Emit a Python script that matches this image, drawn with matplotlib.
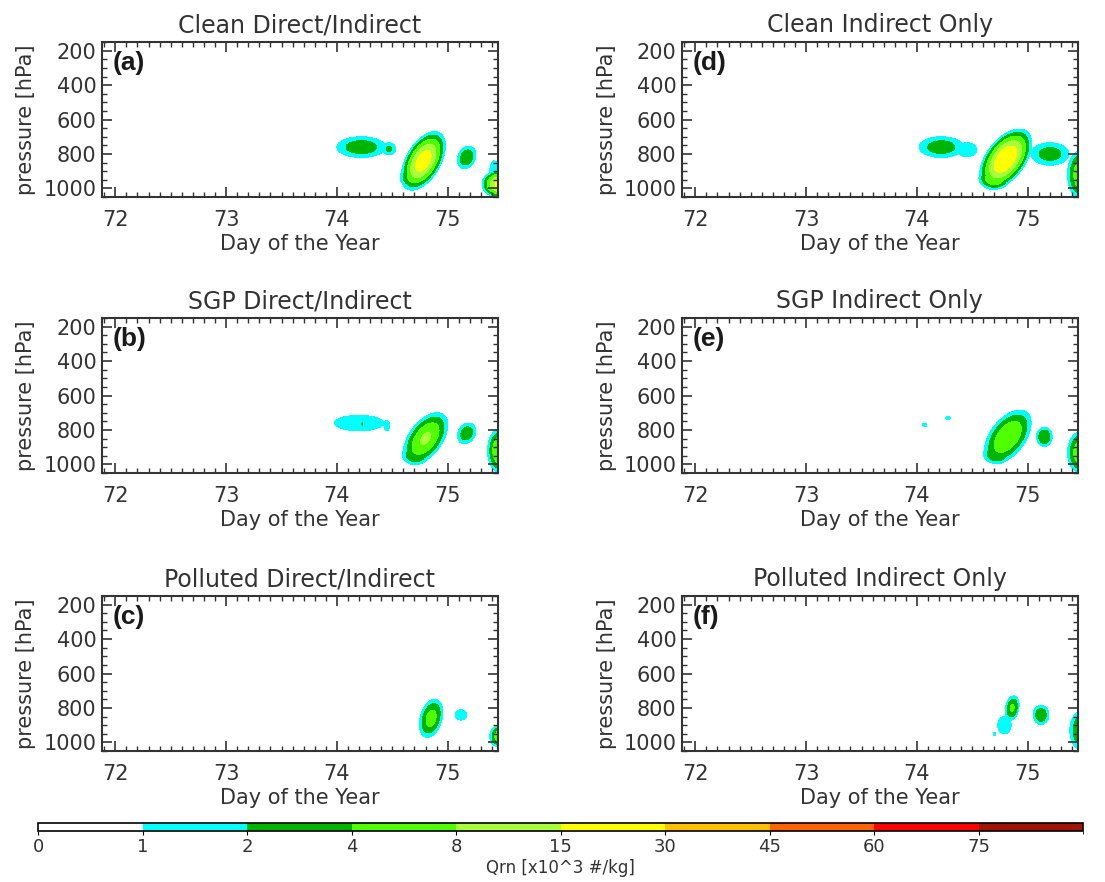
######################################################
# rain number concentration (Qrn) time-pressure sections
# clean / SGP / polluted aerosol runs
######################################################

import numpy as np
import matplotlib.pyplot as plt
import matplotlib as mpl
from matplotlib.colors import ListedColormap, BoundaryNorm
from matplotlib.ticker import MultipleLocator

# contour levels and colours [x10^3 #/kg]
levels = [0, 1, 2, 4, 8, 15, 30, 45, 60, 75, 90]
level_colors = ['#ffffff', '#00ffff', '#00b400', '#50ff00', '#a8ff3c',
                '#ffff00', '#ffc000', '#ff6400', '#ff0000', '#a01400']
tick_labels = ['0', '1', '2', '4', '8', '15', '30', '45', '60', '75']

titles = ['Clean Direct/Indirect', 'SGP Direct/Indirect', 'Polluted Direct/Indirect',
          'Clean Indirect Only', 'SGP Indirect Only', 'Polluted Indirect Only']
letters = ['(a)', '(b)', '(c)', '(d)', '(e)', '(f)']

# rain cells: day, pressure, half-width [day], half-width [hPa], peak Qrn, tilt [day/100 hPa]
cells_a = [(74.22, 760, 0.22, 60, 3.1, 0.0),
           (74.47, 770, 0.06, 35, 2.3, 0.0),
           (74.78, 840, 0.17, 170, 22.0, -0.06),
           (74.70, 935, 0.13, 65, 6.0, 0.0),
           (75.17, 820, 0.08, 65, 3.5, -0.03),
           (75.48, 975, 0.17, 80, 20.0, 0.0),
           (75.42, 900, 0.04, 60, 1.5, 0.0)]
cells_b = [(74.20, 760, 0.22, 45, 1.8, 0.0),
           (74.23, 765, 0.012, 18, 2.3, 0.0),
           (74.45, 775, 0.025, 30, 1.5, 0.0),
           (74.80, 850, 0.17, 150, 9.0, -0.07),
           (74.71, 945, 0.12, 55, 4.0, 0.0),
           (75.17, 820, 0.08, 60, 3.2, -0.03),
           (75.48, 920, 0.12, 130, 9.0, 0.0)]
cells_c = [(74.85, 860, 0.10, 110, 5.5, -0.03),
           (75.12, 840, 0.05, 30, 1.5, 0.0),
           (75.48, 965, 0.10, 65, 7.0, 0.0)]
cells_d = [(74.22, 760, 0.20, 60, 3.0, 0.0),
           (74.45, 775, 0.09, 40, 1.6, 0.0),
           (74.80, 830, 0.20, 175, 28.0, -0.07),
           (74.70, 940, 0.14, 65, 8.0, 0.0),
           (75.20, 800, 0.17, 65, 2.8, 0.0),
           (75.48, 920, 0.12, 140, 7.0, 0.0)]
cells_e = [(74.07, 770, 0.02, 10, 1.2, 0.0),
           (74.28, 730, 0.02, 10, 1.2, 0.0),
           (74.82, 840, 0.18, 155, 8.0, -0.07),
           (74.72, 940, 0.12, 55, 4.0, 0.0),
           (75.15, 840, 0.07, 55, 4.0, 0.0),
           (75.48, 930, 0.12, 120, 7.0, 0.0)]
cells_f = [(74.86, 800, 0.06, 70, 4.5, -0.02),
           (74.79, 900, 0.06, 50, 1.8, 0.0),
           (74.70, 950, 0.012, 10, 1.3, 0.0),
           (75.12, 840, 0.07, 55, 3.5, 0.0),
           (75.48, 930, 0.10, 110, 4.0, 0.0)]
all_cells = [cells_a, cells_b, cells_c, cells_d, cells_e, cells_f]

day = np.linspace(71.88, 75.45, 800)
pres = np.linspace(150, 1050, 400)
DAY, P = np.meshgrid(day, pres)


def rain_field(cells):
    z = np.zeros_like(DAY)
    for d0, p0, wd, wp, peak, tilt in cells:
        xc = d0 + tilt * (P - p0) / 100.0
        r2 = ((DAY - xc) / wd) ** 2 + ((P - p0) / wp) ** 2
        z = np.maximum(z, peak ** (1 - r2))
    return z


plt.rcParams['font.family'] = 'DejaVu Sans'
text_col = '#333333'

fig = plt.figure(figsize=(11.05, 8.82), dpi=100)

col_left = [0.0923, 0.6172]
row_bottom = [0.7766, 0.4637, 0.1485]
width, height = 0.358, 0.1757

for i in range(6):
    col, row = i // 3, i % 3
    ax = fig.add_axes([col_left[col], row_bottom[row], width, height])
    z = rain_field(all_cells[i])
    ax.contourf(day, pres, z, levels=levels[1:], colors=level_colors[1:], extend='max')
    ax.set_xlim(71.88, 75.45)
    ax.set_ylim(1050, 150)
    ax.set_xticks([72, 73, 74, 75])
    ax.set_yticks([200, 400, 600, 800, 1000])
    ax.xaxis.set_minor_locator(MultipleLocator(0.1))
    ax.yaxis.set_minor_locator(MultipleLocator(50))
    ax.tick_params(which='both', direction='in', top=True, right=True,
                   color='#333333', labelcolor=text_col, labelsize=15)
    ax.tick_params(which='major', length=7, width=1.2)
    ax.tick_params(which='minor', length=3.5, width=1)
    ax.tick_params(axis='x', pad=9)
    ax.tick_params(axis='y', pad=4)
    for s in ax.spines.values():
        s.set_linewidth(1.5)
        s.set_color('#333333')
    ax.set_title(titles[i], fontsize=17, color=text_col, pad=7)
    ax.set_xlabel('Day of the Year', fontsize=15, color=text_col, labelpad=3)
    ax.set_ylabel('pressure [hPa]', fontsize=15, color=text_col, labelpad=5)
    ax.text(0.028, 0.94, letters[i], transform=ax.transAxes, ha='left', va='top',
            fontsize=19, fontweight='bold', family='Liberation Sans', color='#1a1a1a')

# colour bar along the bottom
cmap = ListedColormap(level_colors)
norm = BoundaryNorm(levels, cmap.N)
cax = fig.add_axes([0.0344, 0.0578, 0.9457, 0.0095])
cb = mpl.colorbar.ColorbarBase(cax, cmap=cmap, norm=norm, orientation='horizontal',
                               spacing='uniform', ticks=levels[:-1])
cb.set_ticklabels(tick_labels)
cb.outline.set_linewidth(1.2)
cax.tick_params(length=3, labelsize=13, labelcolor=text_col, pad=2)
cb.set_label('Qrn [x10^3 #/kg]', fontsize=12, color=text_col, labelpad=2)

fig.savefig('out.png', dpi=100)
